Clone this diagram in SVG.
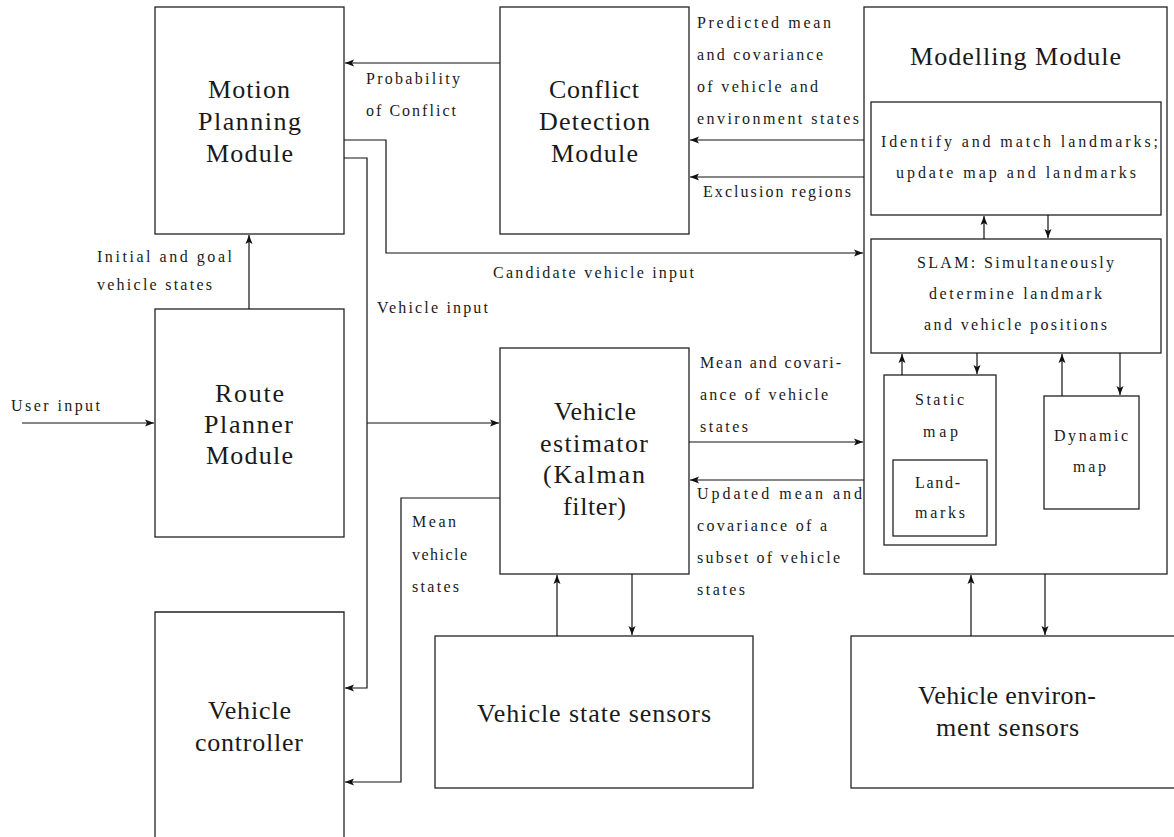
<svg xmlns="http://www.w3.org/2000/svg" width="1174" height="837" viewBox="0 0 1174 837">
<style>
.box{fill:none;stroke:#222;stroke-width:1.3}
.ln{fill:none;stroke:#111;stroke-width:1.2}
text{font-family:'Liberation Serif','Times New Roman','DejaVu Serif',serif;fill:#1a1a1a}
.big{font-size:26px}
.sm{font-size:16px}
</style>
<defs>
<marker id="ah" markerUnits="userSpaceOnUse" markerWidth="10" markerHeight="8" refX="9" refY="4" orient="auto">
<path d="M0,0.5 L9,4 L0,7.5 L2,4 z" fill="#111"/>
</marker>
</defs>
<rect width="1174" height="837" fill="#fff"/>

<g id="motion-planning">
<rect class="box" x="155" y="7" width="189" height="227"/>
<text class="big" x="208" y="98" textLength="82">Motion</text>
<text class="big" x="198" y="130" textLength="103">Planning</text>
<text class="big" x="206" y="162" textLength="87">Module</text>
</g>

<g id="conflict-detection">
<rect class="box" x="500" y="7" width="189" height="227"/>
<text class="big" x="549" y="98" textLength="90">Conflict</text>
<text class="big" x="539" y="130" textLength="111">Detection</text>
<text class="big" x="551" y="162" textLength="87">Module</text>
</g>

<g id="modelling-module">
<rect class="box" x="864" y="7" width="303" height="567"/>
<text class="big" x="910" y="65" textLength="211">Modelling Module</text>
</g>

<g id="identify">
<rect class="box" x="871" y="102" width="290" height="113"/>
<text class="sm" x="881" y="147" textLength="277">Identify and match landmarks;</text>
<text class="sm" x="896" y="178" textLength="240">update map and landmarks</text>
</g>

<g id="slam">
<rect class="box" x="871" y="239" width="290" height="114"/>
<text class="sm" x="917" y="268" textLength="197">SLAM: Simultaneously</text>
<text class="sm" x="929" y="299" textLength="173">determine landmark</text>
<text class="sm" x="924" y="330" textLength="183">and vehicle positions</text>
</g>

<g id="static-map">
<rect class="box" x="884" y="375" width="112" height="170"/>
<text class="sm" x="915" y="405" textLength="49">Static</text>
<text class="sm" x="923" y="437" textLength="35">map</text>
</g>

<g id="landmarks">
<rect class="box" x="893" y="460" width="94" height="76"/>
<text class="sm" x="915" y="488" textLength="45">Land-</text>
<text class="sm" x="915" y="518" textLength="50">marks</text>
</g>

<g id="dynamic-map">
<rect class="box" x="1044" y="396" width="95" height="113"/>
<text class="sm" x="1054" y="441" textLength="74">Dynamic</text>
<text class="sm" x="1073" y="472" textLength="33">map</text>
</g>

<g id="route-planner">
<rect class="box" x="155" y="309" width="189" height="228"/>
<text class="big" x="215" y="402" textLength="69">Route</text>
<text class="big" x="204" y="433" textLength="89">Planner</text>
<text class="big" x="206" y="464" textLength="87">Module</text>
</g>

<g id="vehicle-estimator">
<rect class="box" x="500" y="348" width="189" height="226"/>
<text class="big" x="554" y="420" textLength="82">Vehicle</text>
<text class="big" x="540" y="452" textLength="108">estimator</text>
<text class="big" x="543" y="483" textLength="102">(Kalman</text>
<text class="big" x="563" y="515" textLength="63">filter)</text>
</g>

<g id="vehicle-controller">
<path class="box" d="M155,845 V612 H344 V845"/>
<text class="big" x="208" y="719" textLength="83">Vehicle</text>
<text class="big" x="195" y="751" textLength="108">controller</text>
</g>

<g id="vehicle-state-sensors">
<rect class="box" x="435" y="636" width="318" height="152"/>
<text class="big" x="477" y="722" textLength="234">Vehicle state sensors</text>
</g>

<g id="vehicle-environment-sensors">
<rect class="box" x="851" y="636" width="340" height="152"/>
<text class="big" x="918" y="704" textLength="178">Vehicle environ-</text>
<text class="big" x="936" y="736" textLength="143">ment sensors</text>
</g>

<g id="connectors">
<path class="ln" d="M500,63 H345" marker-end="url(#ah)"/>
<path class="ln" d="M344,140 H386 V253 H863" marker-end="url(#ah)"/>
<path class="ln" d="M344,158 H367 V688 H345" marker-end="url(#ah)"/>
<path class="ln" d="M367,423 H499" marker-end="url(#ah)"/>
<path class="ln" d="M249,309 V235" marker-end="url(#ah)"/>
<path class="ln" d="M22,423 H154" marker-end="url(#ah)"/>
<path class="ln" d="M864,140 H690" marker-end="url(#ah)"/>
<path class="ln" d="M864,177 H690" marker-end="url(#ah)"/>
<path class="ln" d="M689,442 H863" marker-end="url(#ah)"/>
<path class="ln" d="M864,480 H690" marker-end="url(#ah)"/>
<path class="ln" d="M500,498 H401 V782 H345" marker-end="url(#ah)"/>
<path class="ln" d="M984,239 V216" marker-end="url(#ah)"/>
<path class="ln" d="M1048,215 V238" marker-end="url(#ah)"/>
<path class="ln" d="M902,375 V354" marker-end="url(#ah)"/>
<path class="ln" d="M977,353 V374" marker-end="url(#ah)"/>
<path class="ln" d="M1062,396 V354" marker-end="url(#ah)"/>
<path class="ln" d="M1120,353 V395" marker-end="url(#ah)"/>
<path class="ln" d="M971,636 V575" marker-end="url(#ah)"/>
<path class="ln" d="M1045,574 V635" marker-end="url(#ah)"/>
<path class="ln" d="M557,636 V575" marker-end="url(#ah)"/>
<path class="ln" d="M632,574 V635" marker-end="url(#ah)"/>
</g>

<g id="labels">
<text class="sm" x="366" y="84" textLength="94">Probability</text>
<text class="sm" x="366" y="116" textLength="90">of Conflict</text>
<text class="sm" x="697" y="28" textLength="134">Predicted mean</text>
<text class="sm" x="697" y="60" textLength="126">and covariance</text>
<text class="sm" x="697" y="92" textLength="121">of vehicle and</text>
<text class="sm" x="697" y="124" textLength="162">environment states</text>
<text class="sm" x="703" y="197" textLength="148">Exclusion regions</text>
<text class="sm" x="493" y="278" textLength="201">Candidate vehicle input</text>
<text class="sm" x="97" y="262" textLength="135">Initial and goal</text>
<text class="sm" x="97" y="290" textLength="115">vehicle states</text>
<text class="sm" x="377" y="313" textLength="111">Vehicle input</text>
<text class="sm" x="11" y="411" textLength="89">User input</text>
<text class="sm" x="412" y="527" textLength="44">Mean</text>
<text class="sm" x="412" y="560" textLength="55">vehicle</text>
<text class="sm" x="412" y="592" textLength="47">states</text>
<text class="sm" x="700" y="368" textLength="141">Mean and covari-</text>
<text class="sm" x="700" y="400" textLength="128">ance of vehicle</text>
<text class="sm" x="700" y="432" textLength="48">states</text>
<text class="sm" x="697" y="499" textLength="165">Updated mean and</text>
<text class="sm" x="697" y="531" textLength="130">covariance of a</text>
<text class="sm" x="697" y="563" textLength="143">subset of vehicle</text>
<text class="sm" x="697" y="595" textLength="48">states</text>
</g>
</svg>
